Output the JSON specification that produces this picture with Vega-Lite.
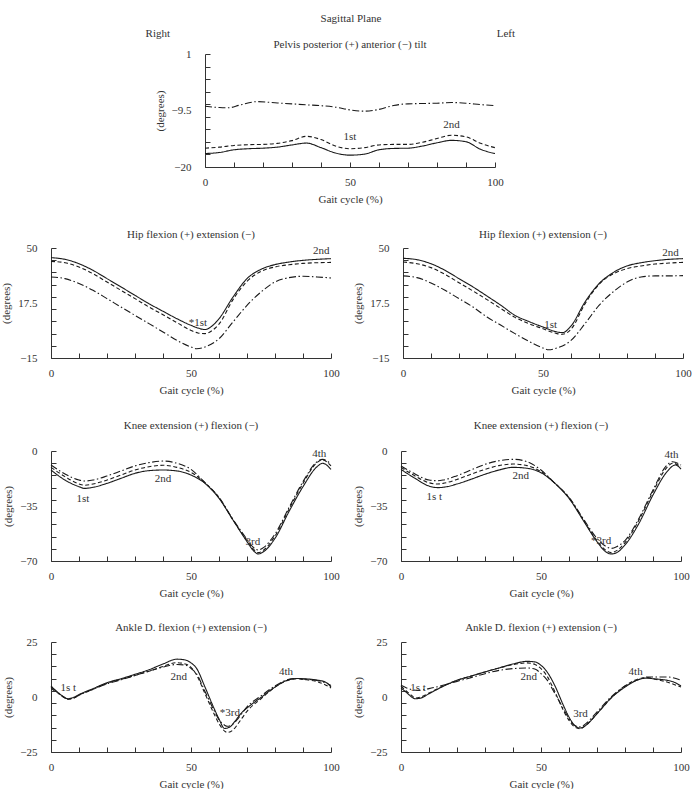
{
"$schema": "https://vega.github.io/schema/vega-lite/v6.json",
"padding": {"left": 0, "top": 13, "right": 0, "bottom": 0},
"title": {"text": "Sagittal Plane", "anchor": "middle", "offset": 4, "dx": 5},
"config": {
 "font": "Liberation Serif",
 "view": {"stroke": null},
 "axis": {"grid": false, "ticks": true, "domainColor": "#333", "tickColor": "#333", "labelColor": "#333", "titleColor": "#333", "labelFont": "Liberation Serif", "titleFont": "Liberation Serif", "labelFontSize": 11, "titleFontSize": 11, "titleFontWeight": "normal", "tickSize": -5, "domainWidth": 1, "tickWidth": 1, "labelFlush": false, "labelOverlap": false},
 "axisX": {"labelPadding": 14, "titlePadding": 6},
 "axisY": {"labelPadding": 19, "titlePadding": 6},
 "title": {"font": "Liberation Serif", "fontSize": 11, "fontWeight": "normal", "color": "#333"},
 "text": {"font": "Liberation Serif"}
},
"datasets": {
 "pelvis": [
  {"x":0,"v":-17.5,"s":"A"},{"x":5,"v":-17.3,"s":"A"},{"x":10,"v":-16.8,"s":"A"},{"x":15,"v":-16.6,"s":"A"},{"x":20,"v":-16.5,"s":"A"},{"x":25,"v":-16.3,"s":"A"},{"x":30,"v":-15.9,"s":"A"},{"x":35,"v":-15.55,"s":"A"},{"x":40,"v":-16.4,"s":"A"},{"x":45,"v":-17.4,"s":"A"},{"x":50,"v":-17.8,"s":"A"},{"x":55,"v":-17.6,"s":"A"},{"x":60,"v":-16.8,"s":"A"},{"x":65,"v":-16.55,"s":"A"},{"x":70,"v":-16.5,"s":"A"},{"x":75,"v":-16.1,"s":"A"},{"x":80,"v":-15.5,"s":"A"},{"x":85,"v":-15.05,"s":"A"},{"x":90,"v":-15.3,"s":"A"},{"x":95,"v":-16.7,"s":"A"},{"x":100,"v":-17.5,"s":"A"},
  {"x":0,"v":-16.5,"s":"B"},{"x":5,"v":-16.3,"s":"B"},{"x":10,"v":-16.0,"s":"B"},{"x":15,"v":-15.85,"s":"B"},{"x":20,"v":-15.8,"s":"B"},{"x":25,"v":-15.6,"s":"B"},{"x":30,"v":-15.1,"s":"B"},{"x":35,"v":-14.3,"s":"B"},{"x":40,"v":-14.9,"s":"B"},{"x":45,"v":-16.1,"s":"B"},{"x":50,"v":-16.6,"s":"B"},{"x":55,"v":-16.4,"s":"B"},{"x":60,"v":-15.9,"s":"B"},{"x":65,"v":-15.8,"s":"B"},{"x":70,"v":-15.8,"s":"B"},{"x":75,"v":-15.4,"s":"B"},{"x":80,"v":-14.7,"s":"B"},{"x":85,"v":-14.1,"s":"B"},{"x":90,"v":-14.4,"s":"B"},{"x":95,"v":-15.6,"s":"B"},{"x":100,"v":-16.4,"s":"B"},
  {"x":0,"v":-8.7,"s":"C"},{"x":5,"v":-8.95,"s":"C"},{"x":8,"v":-9.0,"s":"C"},{"x":12,"v":-8.5,"s":"C"},{"x":18,"v":-7.85,"s":"C"},{"x":25,"v":-8.1,"s":"C"},{"x":30,"v":-8.26,"s":"C"},{"x":35,"v":-8.45,"s":"C"},{"x":40,"v":-8.6,"s":"C"},{"x":45,"v":-8.88,"s":"C"},{"x":50,"v":-9.38,"s":"C"},{"x":55,"v":-9.62,"s":"C"},{"x":60,"v":-9.3,"s":"C"},{"x":65,"v":-8.57,"s":"C"},{"x":70,"v":-8.26,"s":"C"},{"x":75,"v":-8.2,"s":"C"},{"x":80,"v":-8.14,"s":"C"},{"x":85,"v":-8.02,"s":"C"},{"x":90,"v":-8.14,"s":"C"},{"x":95,"v":-8.4,"s":"C"},{"x":100,"v":-8.6,"s":"C"}
 ],
 "pelvisLab": [{"x":50,"v":-14.4,"t":"1st"},{"x":85,"v":-12.1,"t":"2nd"}],
 "hipR": [
  {"x":0,"v":44.3,"s":"A"},{"x":5,"v":43.3,"s":"A"},{"x":10,"v":40.7,"s":"A"},{"x":15,"v":36.8,"s":"A"},{"x":20,"v":31.9,"s":"A"},{"x":25,"v":27.0,"s":"A"},{"x":30,"v":22.0,"s":"A"},{"x":35,"v":17.1,"s":"A"},{"x":40,"v":12.6,"s":"A"},{"x":45,"v":8.2,"s":"A"},{"x":50,"v":4.3,"s":"A"},{"x":52.5,"v":2.7,"s":"A"},{"x":55,"v":1.8,"s":"A"},{"x":57.5,"v":3.9,"s":"A"},{"x":60,"v":8.2,"s":"A"},{"x":65,"v":21.0,"s":"A"},{"x":70,"v":31.9,"s":"A"},{"x":75,"v":37.4,"s":"A"},{"x":80,"v":40.2,"s":"A"},{"x":85,"v":41.7,"s":"A"},{"x":90,"v":42.7,"s":"A"},{"x":95,"v":43.3,"s":"A"},{"x":100,"v":43.7,"s":"A"},
  {"x":0,"v":42.1,"s":"B"},{"x":5,"v":41.3,"s":"B"},{"x":10,"v":38.8,"s":"B"},{"x":15,"v":34.8,"s":"B"},{"x":20,"v":29.9,"s":"B"},{"x":25,"v":25.0,"s":"B"},{"x":30,"v":20.1,"s":"B"},{"x":35,"v":15.1,"s":"B"},{"x":40,"v":10.6,"s":"B"},{"x":45,"v":5.9,"s":"B"},{"x":50,"v":1.3,"s":"B"},{"x":52.5,"v":-0.2,"s":"B"},{"x":55,"v":-0.6,"s":"B"},{"x":57.5,"v":1.2,"s":"B"},{"x":60,"v":5.0,"s":"B"},{"x":65,"v":19.5,"s":"B"},{"x":70,"v":30.3,"s":"B"},{"x":75,"v":36.2,"s":"B"},{"x":80,"v":38.8,"s":"B"},{"x":85,"v":40.1,"s":"B"},{"x":90,"v":40.9,"s":"B"},{"x":95,"v":41.3,"s":"B"},{"x":100,"v":41.5,"s":"B"},
  {"x":0,"v":32.9,"s":"C"},{"x":5,"v":31.9,"s":"C"},{"x":10,"v":29.0,"s":"C"},{"x":15,"v":25.0,"s":"C"},{"x":20,"v":20.1,"s":"C"},{"x":25,"v":15.1,"s":"C"},{"x":30,"v":10.2,"s":"C"},{"x":35,"v":5.3,"s":"C"},{"x":40,"v":0.4,"s":"C"},{"x":45,"v":-4.6,"s":"C"},{"x":50,"v":-8.5,"s":"C"},{"x":52,"v":-9.5,"s":"C"},{"x":55,"v":-8.5,"s":"C"},{"x":60,"v":-3.6,"s":"C"},{"x":65,"v":6.3,"s":"C"},{"x":70,"v":16.1,"s":"C"},{"x":75,"v":24.0,"s":"C"},{"x":80,"v":29.9,"s":"C"},{"x":85,"v":32.5,"s":"C"},{"x":90,"v":33.3,"s":"C"},{"x":95,"v":32.9,"s":"C"},{"x":100,"v":32.3,"s":"C"}
 ],
 "hipRLab": [{"x":52.5,"v":5.8,"t":"*1st"},{"x":96.5,"v":48.5,"t":"2nd"}],
 "hipL": [
  {"x":0,"v":43.9,"s":"A"},{"x":5,"v":43.1,"s":"A"},{"x":10,"v":40.7,"s":"A"},{"x":15,"v":36.8,"s":"A"},{"x":20,"v":31.9,"s":"A"},{"x":25,"v":27.0,"s":"A"},{"x":30,"v":21.6,"s":"A"},{"x":35,"v":16.1,"s":"A"},{"x":40,"v":10.2,"s":"A"},{"x":45,"v":6.5,"s":"A"},{"x":50,"v":3.3,"s":"A"},{"x":55,"v":0.4,"s":"A"},{"x":57,"v":0.0,"s":"A"},{"x":60,"v":3.9,"s":"A"},{"x":65,"v":18.1,"s":"A"},{"x":70,"v":28.9,"s":"A"},{"x":75,"v":35.4,"s":"A"},{"x":80,"v":39.4,"s":"A"},{"x":85,"v":41.3,"s":"A"},{"x":90,"v":42.5,"s":"A"},{"x":95,"v":43.3,"s":"A"},{"x":100,"v":43.7,"s":"A"},
  {"x":0,"v":41.7,"s":"B"},{"x":5,"v":40.7,"s":"B"},{"x":10,"v":38.4,"s":"B"},{"x":15,"v":34.4,"s":"B"},{"x":20,"v":29.5,"s":"B"},{"x":25,"v":24.6,"s":"B"},{"x":30,"v":19.5,"s":"B"},{"x":35,"v":14.2,"s":"B"},{"x":40,"v":9.0,"s":"B"},{"x":45,"v":5.3,"s":"B"},{"x":50,"v":2.3,"s":"B"},{"x":55,"v":-0.6,"s":"B"},{"x":57,"v":-1.0,"s":"B"},{"x":60,"v":2.0,"s":"B"},{"x":65,"v":17.0,"s":"B"},{"x":70,"v":28.5,"s":"B"},{"x":75,"v":34.6,"s":"B"},{"x":80,"v":37.8,"s":"B"},{"x":85,"v":39.4,"s":"B"},{"x":90,"v":40.5,"s":"B"},{"x":95,"v":41.1,"s":"B"},{"x":100,"v":41.5,"s":"B"},
  {"x":0,"v":33.5,"s":"C"},{"x":5,"v":32.5,"s":"C"},{"x":10,"v":29.3,"s":"C"},{"x":15,"v":25.0,"s":"C"},{"x":20,"v":20.1,"s":"C"},{"x":25,"v":15.1,"s":"C"},{"x":30,"v":9.2,"s":"C"},{"x":35,"v":4.3,"s":"C"},{"x":40,"v":-0.6,"s":"C"},{"x":45,"v":-5.2,"s":"C"},{"x":50,"v":-9.1,"s":"C"},{"x":52,"v":-10.1,"s":"C"},{"x":55,"v":-9.1,"s":"C"},{"x":60,"v":-4.6,"s":"C"},{"x":65,"v":5.3,"s":"C"},{"x":70,"v":16.1,"s":"C"},{"x":75,"v":24.0,"s":"C"},{"x":80,"v":29.9,"s":"C"},{"x":85,"v":32.9,"s":"C"},{"x":90,"v":33.5,"s":"C"},{"x":95,"v":33.5,"s":"C"},{"x":100,"v":33.7,"s":"C"}
 ],
 "hipLLab": [{"x":52.7,"v":4.7,"t":"1st"},{"x":95.5,"v":47.2,"t":"2nd"}],
 "kneeR": [
  {"x":0,"v":-12.1,"s":"A"},{"x":5,"v":-18.5,"s":"A"},{"x":10,"v":-22.7,"s":"A"},{"x":12,"v":-23.8,"s":"A"},{"x":15,"v":-23.1,"s":"A"},{"x":20,"v":-20.6,"s":"A"},{"x":25,"v":-17.4,"s":"A"},{"x":30,"v":-14.2,"s":"A"},{"x":35,"v":-12.5,"s":"A"},{"x":40,"v":-12.1,"s":"A"},{"x":45,"v":-12.7,"s":"A"},{"x":50,"v":-15.3,"s":"A"},{"x":55,"v":-20.6,"s":"A"},{"x":60,"v":-30.1,"s":"A"},{"x":65,"v":-43.9,"s":"A"},{"x":70,"v":-57.7,"s":"A"},{"x":72,"v":-62.8,"s":"A"},{"x":74,"v":-65.5,"s":"A"},{"x":76,"v":-64.0,"s":"A"},{"x":80,"v":-55.6,"s":"A"},{"x":85,"v":-38.5,"s":"A"},{"x":90,"v":-22.7,"s":"A"},{"x":95,"v":-10.0,"s":"A"},{"x":97,"v":-7.8,"s":"A"},{"x":100,"v":-11.7,"s":"A"},
  {"x":0,"v":-10.4,"s":"B"},{"x":5,"v":-16.3,"s":"B"},{"x":10,"v":-21.0,"s":"B"},{"x":12,"v":-21.8,"s":"B"},{"x":15,"v":-21.0,"s":"B"},{"x":20,"v":-18.5,"s":"B"},{"x":25,"v":-15.3,"s":"B"},{"x":30,"v":-12.1,"s":"B"},{"x":35,"v":-10.0,"s":"B"},{"x":40,"v":-9.1,"s":"B"},{"x":45,"v":-10.4,"s":"B"},{"x":50,"v":-13.6,"s":"B"},{"x":55,"v":-20.2,"s":"B"},{"x":60,"v":-29.7,"s":"B"},{"x":65,"v":-43.9,"s":"B"},{"x":70,"v":-57.1,"s":"B"},{"x":72,"v":-61.9,"s":"B"},{"x":74,"v":-64.7,"s":"B"},{"x":76,"v":-63.0,"s":"B"},{"x":80,"v":-54.1,"s":"B"},{"x":85,"v":-37.0,"s":"B"},{"x":90,"v":-20.6,"s":"B"},{"x":95,"v":-7.4,"s":"B"},{"x":97,"v":-5.7,"s":"B"},{"x":100,"v":-9.5,"s":"B"},
  {"x":0,"v":-8.9,"s":"C"},{"x":5,"v":-14.6,"s":"C"},{"x":10,"v":-18.5,"s":"C"},{"x":12,"v":-19.1,"s":"C"},{"x":15,"v":-18.5,"s":"C"},{"x":20,"v":-15.9,"s":"C"},{"x":25,"v":-12.7,"s":"C"},{"x":30,"v":-9.5,"s":"C"},{"x":35,"v":-7.4,"s":"C"},{"x":40,"v":-6.4,"s":"C"},{"x":45,"v":-7.8,"s":"C"},{"x":50,"v":-11.7,"s":"C"},{"x":55,"v":-20.2,"s":"C"},{"x":60,"v":-29.5,"s":"C"},{"x":65,"v":-43.5,"s":"C"},{"x":70,"v":-56.2,"s":"C"},{"x":72,"v":-60.9,"s":"C"},{"x":74,"v":-63.0,"s":"C"},{"x":76,"v":-61.3,"s":"C"},{"x":80,"v":-52.8,"s":"C"},{"x":85,"v":-36.0,"s":"C"},{"x":90,"v":-19.5,"s":"C"},{"x":95,"v":-6.8,"s":"C"},{"x":97,"v":-5.3,"s":"C"},{"x":100,"v":-8.3,"s":"C"}
 ],
 "kneeRLab": [{"x":11.4,"v":-30.8,"t":"1st"},{"x":40,"v":-17.8,"t":"2nd"},{"x":72.1,"v":-58.1,"t":"3rd"},{"x":95.8,"v":-1.9,"t":"4th"}],
 "kneeL": [
  {"x":0,"v":-11.7,"s":"A"},{"x":5,"v":-17.4,"s":"A"},{"x":10,"v":-22.3,"s":"A"},{"x":13,"v":-23.3,"s":"A"},{"x":15,"v":-23.1,"s":"A"},{"x":20,"v":-21.0,"s":"A"},{"x":25,"v":-18.0,"s":"A"},{"x":30,"v":-14.8,"s":"A"},{"x":35,"v":-12.1,"s":"A"},{"x":40,"v":-10.4,"s":"A"},{"x":45,"v":-11.0,"s":"A"},{"x":50,"v":-13.8,"s":"A"},{"x":55,"v":-20.6,"s":"A"},{"x":60,"v":-30.1,"s":"A"},{"x":65,"v":-43.9,"s":"A"},{"x":70,"v":-57.7,"s":"A"},{"x":73,"v":-64.0,"s":"A"},{"x":75,"v":-65.5,"s":"A"},{"x":77,"v":-64.7,"s":"A"},{"x":80,"v":-59.8,"s":"A"},{"x":85,"v":-46.0,"s":"A"},{"x":90,"v":-28.0,"s":"A"},{"x":95,"v":-13.2,"s":"A"},{"x":98,"v":-8.9,"s":"A"},{"x":100,"v":-11.5,"s":"A"},
  {"x":0,"v":-10.4,"s":"B"},{"x":5,"v":-15.9,"s":"B"},{"x":10,"v":-20.2,"s":"B"},{"x":13,"v":-21.0,"s":"B"},{"x":15,"v":-20.6,"s":"B"},{"x":20,"v":-18.1,"s":"B"},{"x":25,"v":-14.8,"s":"B"},{"x":30,"v":-11.7,"s":"B"},{"x":35,"v":-9.3,"s":"B"},{"x":40,"v":-8.3,"s":"B"},{"x":45,"v":-9.3,"s":"B"},{"x":50,"v":-13.1,"s":"B"},{"x":55,"v":-20.6,"s":"B"},{"x":60,"v":-29.7,"s":"B"},{"x":65,"v":-43.5,"s":"B"},{"x":70,"v":-57.1,"s":"B"},{"x":73,"v":-63.0,"s":"B"},{"x":75,"v":-64.7,"s":"B"},{"x":77,"v":-63.4,"s":"B"},{"x":80,"v":-58.3,"s":"B"},{"x":85,"v":-43.9,"s":"B"},{"x":90,"v":-25.9,"s":"B"},{"x":95,"v":-10.4,"s":"B"},{"x":97,"v":-7.8,"s":"B"},{"x":100,"v":-10.0,"s":"B"},
  {"x":0,"v":-9.5,"s":"C"},{"x":5,"v":-14.6,"s":"C"},{"x":10,"v":-18.5,"s":"C"},{"x":13,"v":-18.9,"s":"C"},{"x":15,"v":-18.5,"s":"C"},{"x":20,"v":-15.7,"s":"C"},{"x":25,"v":-12.1,"s":"C"},{"x":30,"v":-8.5,"s":"C"},{"x":35,"v":-6.2,"s":"C"},{"x":40,"v":-5.3,"s":"C"},{"x":45,"v":-6.8,"s":"C"},{"x":50,"v":-12.1,"s":"C"},{"x":55,"v":-20.6,"s":"C"},{"x":60,"v":-29.5,"s":"C"},{"x":65,"v":-42.8,"s":"C"},{"x":70,"v":-55.6,"s":"C"},{"x":73,"v":-60.5,"s":"C"},{"x":75,"v":-62.0,"s":"C"},{"x":77,"v":-60.9,"s":"C"},{"x":80,"v":-57.0,"s":"C"},{"x":85,"v":-42.8,"s":"C"},{"x":90,"v":-24.8,"s":"C"},{"x":95,"v":-8.9,"s":"C"},{"x":97,"v":-6.8,"s":"C"},{"x":100,"v":-8.9,"s":"C"}
 ],
 "kneeLLab": [{"x":11.9,"v":-29.5,"t":"1s t"},{"x":42.8,"v":-15.7,"t":"2nd"},{"x":71.5,"v":-57.5,"t":"*3rd"},{"x":96.6,"v":-2.5,"t":"4th"}],
 "ankR": [
  {"x":0,"v":5.0,"s":"A"},{"x":2,"v":2.6,"s":"A"},{"x":4,"v":0.5,"s":"A"},{"x":6,"v":-0.8,"s":"A"},{"x":8,"v":-0.2,"s":"A"},{"x":10,"v":1.1,"s":"A"},{"x":15,"v":3.8,"s":"A"},{"x":20,"v":6.5,"s":"A"},{"x":25,"v":8.3,"s":"A"},{"x":30,"v":10.3,"s":"A"},{"x":35,"v":12.4,"s":"A"},{"x":40,"v":15.0,"s":"A"},{"x":45,"v":17.2,"s":"A"},{"x":48,"v":16.8,"s":"A"},{"x":50,"v":15.5,"s":"A"},{"x":52,"v":13.0,"s":"A"},{"x":55,"v":4.5,"s":"A"},{"x":58,"v":-4.5,"s":"A"},{"x":60,"v":-10.0,"s":"A"},{"x":62,"v":-14.3,"s":"A"},{"x":64,"v":-13.5,"s":"A"},{"x":66,"v":-10.5,"s":"A"},{"x":68,"v":-7.3,"s":"A"},{"x":70,"v":-5.0,"s":"A"},{"x":75,"v":-0.2,"s":"A"},{"x":80,"v":4.5,"s":"A"},{"x":85,"v":7.9,"s":"A"},{"x":88,"v":8.4,"s":"A"},{"x":90,"v":8.3,"s":"A"},{"x":95,"v":7.7,"s":"A"},{"x":98,"v":6.8,"s":"A"},{"x":100,"v":4.5,"s":"A"},
  {"x":0,"v":3.8,"s":"B"},{"x":2,"v":2.2,"s":"B"},{"x":4,"v":0.3,"s":"B"},{"x":6,"v":-1.1,"s":"B"},{"x":8,"v":-0.6,"s":"B"},{"x":10,"v":0.8,"s":"B"},{"x":15,"v":3.5,"s":"B"},{"x":20,"v":6.2,"s":"B"},{"x":25,"v":8.0,"s":"B"},{"x":30,"v":9.8,"s":"B"},{"x":35,"v":11.7,"s":"B"},{"x":40,"v":13.9,"s":"B"},{"x":45,"v":15.6,"s":"B"},{"x":48,"v":15.0,"s":"B"},{"x":50,"v":13.5,"s":"B"},{"x":52,"v":10.0,"s":"B"},{"x":55,"v":1.5,"s":"B"},{"x":58,"v":-7.0,"s":"B"},{"x":60,"v":-12.1,"s":"B"},{"x":62,"v":-15.5,"s":"B"},{"x":63,"v":-16.1,"s":"B"},{"x":65,"v":-15.0,"s":"B"},{"x":67,"v":-11.8,"s":"B"},{"x":70,"v":-6.5,"s":"B"},{"x":75,"v":-0.8,"s":"B"},{"x":80,"v":4.5,"s":"B"},{"x":85,"v":7.7,"s":"B"},{"x":88,"v":8.3,"s":"B"},{"x":90,"v":8.0,"s":"B"},{"x":95,"v":7.0,"s":"B"},{"x":98,"v":5.5,"s":"B"},{"x":100,"v":4.1,"s":"B"},
  {"x":0,"v":4.5,"s":"C"},{"x":2,"v":2.5,"s":"C"},{"x":4,"v":0.5,"s":"C"},{"x":6,"v":-0.8,"s":"C"},{"x":8,"v":-0.5,"s":"C"},{"x":10,"v":0.8,"s":"C"},{"x":15,"v":3.5,"s":"C"},{"x":20,"v":6.0,"s":"C"},{"x":25,"v":7.8,"s":"C"},{"x":30,"v":9.8,"s":"C"},{"x":35,"v":11.8,"s":"C"},{"x":40,"v":13.6,"s":"C"},{"x":45,"v":14.8,"s":"C"},{"x":48,"v":14.5,"s":"C"},{"x":50,"v":13.0,"s":"C"},{"x":52,"v":10.5,"s":"C"},{"x":55,"v":2.5,"s":"C"},{"x":58,"v":-5.5,"s":"C"},{"x":60,"v":-10.3,"s":"C"},{"x":62,"v":-12.8,"s":"C"},{"x":63,"v":-13.3,"s":"C"},{"x":65,"v":-12.3,"s":"C"},{"x":67,"v":-9.5,"s":"C"},{"x":70,"v":-4.5,"s":"C"},{"x":75,"v":0.5,"s":"C"},{"x":80,"v":5.0,"s":"C"},{"x":85,"v":8.0,"s":"C"},{"x":88,"v":8.4,"s":"C"},{"x":90,"v":8.2,"s":"C"},{"x":95,"v":7.5,"s":"C"},{"x":98,"v":6.5,"s":"C"},{"x":100,"v":5.2,"s":"C"}
 ],
 "ankRLab": [{"x":6.2,"v":4.2,"t":"1s t"},{"x":45.6,"v":9.1,"t":"2nd"},{"x":63.9,"v":-7.1,"t":"*3rd"},{"x":83.9,"v":11.4,"t":"4th"}],
 "ankL": [
  {"x":0,"v":4.1,"s":"A"},{"x":2,"v":2.0,"s":"A"},{"x":4,"v":-0.2,"s":"A"},{"x":5,"v":-0.8,"s":"A"},{"x":7,"v":-0.5,"s":"A"},{"x":10,"v":1.5,"s":"A"},{"x":15,"v":4.8,"s":"A"},{"x":20,"v":7.6,"s":"A"},{"x":25,"v":9.5,"s":"A"},{"x":30,"v":11.4,"s":"A"},{"x":35,"v":13.2,"s":"A"},{"x":40,"v":15.0,"s":"A"},{"x":45,"v":16.2,"s":"A"},{"x":48,"v":15.9,"s":"A"},{"x":50,"v":14.4,"s":"A"},{"x":52,"v":11.7,"s":"A"},{"x":55,"v":5.0,"s":"A"},{"x":58,"v":-3.8,"s":"A"},{"x":60,"v":-9.1,"s":"A"},{"x":62,"v":-12.9,"s":"A"},{"x":64,"v":-14.1,"s":"A"},{"x":66,"v":-12.9,"s":"A"},{"x":70,"v":-7.6,"s":"A"},{"x":75,"v":-0.5,"s":"A"},{"x":80,"v":4.5,"s":"A"},{"x":85,"v":8.0,"s":"A"},{"x":88,"v":8.6,"s":"A"},{"x":90,"v":8.3,"s":"A"},{"x":95,"v":7.6,"s":"A"},{"x":98,"v":6.5,"s":"A"},{"x":100,"v":5.0,"s":"A"},
  {"x":0,"v":5.0,"s":"B"},{"x":2,"v":2.6,"s":"B"},{"x":4,"v":0.5,"s":"B"},{"x":5,"v":-0.5,"s":"B"},{"x":7,"v":0.0,"s":"B"},{"x":10,"v":1.8,"s":"B"},{"x":15,"v":5.0,"s":"B"},{"x":20,"v":7.6,"s":"B"},{"x":25,"v":9.5,"s":"B"},{"x":30,"v":11.4,"s":"B"},{"x":35,"v":13.2,"s":"B"},{"x":40,"v":14.7,"s":"B"},{"x":45,"v":15.5,"s":"B"},{"x":48,"v":14.7,"s":"B"},{"x":50,"v":12.9,"s":"B"},{"x":52,"v":9.8,"s":"B"},{"x":55,"v":2.3,"s":"B"},{"x":58,"v":-6.1,"s":"B"},{"x":60,"v":-10.6,"s":"B"},{"x":62,"v":-13.6,"s":"B"},{"x":64,"v":-14.4,"s":"B"},{"x":66,"v":-12.9,"s":"B"},{"x":70,"v":-7.6,"s":"B"},{"x":75,"v":-0.5,"s":"B"},{"x":80,"v":5.0,"s":"B"},{"x":85,"v":8.3,"s":"B"},{"x":88,"v":8.8,"s":"B"},{"x":90,"v":8.3,"s":"B"},{"x":95,"v":6.8,"s":"B"},{"x":100,"v":4.5,"s":"B"},
  {"x":0,"v":5.3,"s":"C"},{"x":2,"v":4.1,"s":"C"},{"x":4,"v":3.3,"s":"C"},{"x":6,"v":3.0,"s":"C"},{"x":8,"v":3.3,"s":"C"},{"x":10,"v":3.8,"s":"C"},{"x":15,"v":5.3,"s":"C"},{"x":20,"v":7.1,"s":"C"},{"x":25,"v":8.8,"s":"C"},{"x":30,"v":10.6,"s":"C"},{"x":35,"v":12.1,"s":"C"},{"x":40,"v":12.9,"s":"C"},{"x":45,"v":13.2,"s":"C"},{"x":48,"v":12.6,"s":"C"},{"x":50,"v":10.6,"s":"C"},{"x":52,"v":8.0,"s":"C"},{"x":55,"v":1.5,"s":"C"},{"x":58,"v":-5.3,"s":"C"},{"x":60,"v":-9.8,"s":"C"},{"x":62,"v":-12.9,"s":"C"},{"x":64,"v":-13.6,"s":"C"},{"x":66,"v":-12.1,"s":"C"},{"x":70,"v":-6.8,"s":"C"},{"x":75,"v":0.0,"s":"C"},{"x":80,"v":5.0,"s":"C"},{"x":85,"v":8.0,"s":"C"},{"x":88,"v":9.1,"s":"C"},{"x":90,"v":9.1,"s":"C"},{"x":95,"v":9.1,"s":"C"},{"x":100,"v":7.6,"s":"C"}
 ],
 "ankLLab": [{"x":6.1,"v":4.2,"t":"1s t"},{"x":45.6,"v":9.1,"t":"2nd"},{"x":64.1,"v":-7.6,"t":"3rd"},{"x":83.8,"v":11.4,"t":"4th"}]
},
"spacing": 24,
"vconcat": [
 {"spacing": 0.01, "vconcat": [
  {"spacing": 0, "hconcat": [
   {"width": 119, "height": 0.01, "title": {"text": "Right", "anchor": "end", "offset": -1}, "data": {"values": []}, "mark": "point"},
   {"width": 345, "height": 0.01, "title": {"text": "Left", "anchor": "end", "offset": -1}, "data": {"values": []}, "mark": "point"}
  ]},
  {"spacing": 0, "hconcat": [
   {"width": 103, "height": 0.01, "data": {"values": []}, "mark": "point"},
   {"width": 290, "height": 113,
    "title": {"text": "Pelvis posterior (+) anterior (−) tilt", "frame": "group", "offset": -2},
    "encoding": {
     "x": {"field": "x", "type": "quantitative", "scale": {"domain": [0, 100], "nice": false}, "axis": {"values": [0,10,20,30,40,50,60,70,80,90,100], "labelExpr": "datum.value % 50 == 0 ? datum.label : ''", "title": "Gait cycle (%)", "ticks": true, "tickSize": -5}},
     "y": {"field": "v", "type": "quantitative", "scale": {"domain": [-20, 1], "nice": false, "zero": false}, "axis": {"values": [1,-1.3333,-3.6667,-6,-8.3333,-9.5,-10.6667,-13,-15.3333,-17.6667,-20], "labelExpr": "datum.value == 1 ? '1' : datum.value == -9.5 ? '−9.5' : datum.value == -20 ? '−20' : ''", "tickOpacity": {"condition": {"test": "datum.value == -9.5", "value": 0}, "value": 1}, "title": "(degrees)", "ticks": true, "tickSize": -5}}
    },
    "layer": [
     {"data": {"name": "pelvis"}, "mark": {"type": "line", "interpolate": "monotone", "strokeWidth": 1.1, "color": "#1a1a1a"},
      "encoding": {"strokeDash": {"field": "s", "type": "nominal", "scale": {"domain": ["A","B","C"], "range": [[1,0],[4,2.5],[7,2.5,1.5,2.5]]}, "legend": null}}},
     {"data": {"name": "pelvisLab"}, "mark": {"type": "text", "fontSize": 11, "color": "#333"}, "encoding": {"text": {"field": "t"}}}
    ]}
  ]}
 ]},
 {"spacing": 12, "hconcat": [
  {"width": 280, "height": 110, "title": {"text": "Hip flexion (+) extension (−)", "frame": "group", "offset": 2},
   "encoding": {
    "x": {"field": "x", "type": "quantitative", "scale": {"domain": [0, 100], "nice": false}, "axis": {"values": [0,10,20,30,40,50,60,70,80,90,100], "labelExpr": "datum.value % 50 == 0 ? datum.label : ''", "title": "Gait cycle (%)", "ticks": true, "tickSize": -5}},
    "y": {"field": "v", "type": "quantitative", "scale": {"domain": [-15, 50], "nice": false, "zero": false}, "axis": {"values": [50,42.7778,35.5556,28.3333,21.1111,17.5,13.8889,6.6667,-0.5556,-7.7778,-15], "labelExpr": "datum.value == 50 ? '50' : datum.value == 17.5 ? '17.5' : datum.value == -15 ? '−15' : ''", "tickOpacity": {"condition": {"test": "datum.value == 17.5", "value": 0}, "value": 1}, "title": "(degrees)", "ticks": true, "tickSize": -5}}
   },
   "layer": [
    {"data": {"name": "hipR"}, "mark": {"type": "line", "interpolate": "monotone", "strokeWidth": 1.1, "color": "#1a1a1a"},
     "encoding": {"strokeDash": {"field": "s", "type": "nominal", "scale": {"domain": ["A","B","C"], "range": [[1,0],[4,2.5],[7,2.5,1.5,2.5]]}, "legend": null}}},
    {"data": {"name": "hipRLab"}, "mark": {"type": "text", "fontSize": 11, "color": "#333"}, "encoding": {"text": {"field": "t"}}}
   ]},
  {"width": 280, "height": 110, "title": {"text": "Hip flexion (+) extension (−)", "frame": "group", "offset": 2},
   "encoding": {
    "x": {"field": "x", "type": "quantitative", "scale": {"domain": [0, 100], "nice": false}, "axis": {"values": [0,10,20,30,40,50,60,70,80,90,100], "labelExpr": "datum.value % 50 == 0 ? datum.label : ''", "title": "Gait cycle (%)", "ticks": true, "tickSize": -5}},
    "y": {"field": "v", "type": "quantitative", "scale": {"domain": [-15, 50], "nice": false, "zero": false}, "axis": {"values": [50,42.7778,35.5556,28.3333,21.1111,17.5,13.8889,6.6667,-0.5556,-7.7778,-15], "labelExpr": "datum.value == 50 ? '50' : datum.value == 17.5 ? '17.5' : datum.value == -15 ? '−15' : ''", "tickOpacity": {"condition": {"test": "datum.value == 17.5", "value": 0}, "value": 1}, "title": "(degrees)", "ticks": true, "tickSize": -5}}
   },
   "layer": [
    {"data": {"name": "hipL"}, "mark": {"type": "line", "interpolate": "monotone", "strokeWidth": 1.1, "color": "#1a1a1a"},
     "encoding": {"strokeDash": {"field": "s", "type": "nominal", "scale": {"domain": ["A","B","C"], "range": [[1,0],[4,2.5],[7,2.5,1.5,2.5]]}, "legend": null}}},
    {"data": {"name": "hipLLab"}, "mark": {"type": "text", "fontSize": 11, "color": "#333"}, "encoding": {"text": {"field": "t"}}}
   ]}
 ]},
 {"spacing": 12, "hconcat": [
  {"width": 280, "height": 110, "title": {"text": "Knee extension (+) flexion (−)", "frame": "group", "offset": 14.5},
   "encoding": {
    "x": {"field": "x", "type": "quantitative", "scale": {"domain": [0, 100], "nice": false}, "axis": {"values": [0,10,20,30,40,50,60,70,80,90,100], "labelExpr": "datum.value % 50 == 0 ? datum.label : ''", "title": "Gait cycle (%)", "ticks": true, "tickSize": -5}},
    "y": {"field": "v", "type": "quantitative", "scale": {"domain": [-70, 0], "nice": false, "zero": false}, "axis": {"values": [0,-7.7778,-15.5556,-23.3333,-31.1111,-35,-38.8889,-46.6667,-54.4444,-62.2222,-70], "labelExpr": "datum.value == 0 ? '0' : datum.value == -35 ? '−35' : datum.value == -70 ? '−70' : ''", "tickOpacity": {"condition": {"test": "datum.value == -35", "value": 0}, "value": 1}, "title": "(degrees)", "ticks": true, "tickSize": -5}}
   },
   "layer": [
    {"data": {"name": "kneeR"}, "mark": {"type": "line", "interpolate": "monotone", "strokeWidth": 1.1, "color": "#1a1a1a"},
     "encoding": {"strokeDash": {"field": "s", "type": "nominal", "scale": {"domain": ["A","B","C"], "range": [[1,0],[4,2.5],[7,2.5,1.5,2.5]]}, "legend": null}}},
    {"data": {"name": "kneeRLab"}, "mark": {"type": "text", "fontSize": 11, "color": "#333"}, "encoding": {"text": {"field": "t"}}}
   ]},
  {"width": 280, "height": 110, "title": {"text": "Knee extension (+) flexion (−)", "frame": "group", "offset": 14.5},
   "encoding": {
    "x": {"field": "x", "type": "quantitative", "scale": {"domain": [0, 100], "nice": false}, "axis": {"values": [0,10,20,30,40,50,60,70,80,90,100], "labelExpr": "datum.value % 50 == 0 ? datum.label : ''", "title": "Gait cycle (%)", "ticks": true, "tickSize": -5}},
    "y": {"field": "v", "type": "quantitative", "scale": {"domain": [-70, 0], "nice": false, "zero": false}, "axis": {"values": [0,-7.7778,-15.5556,-23.3333,-31.1111,-35,-38.8889,-46.6667,-54.4444,-62.2222,-70], "labelExpr": "datum.value == 0 ? '0' : datum.value == -35 ? '−35' : datum.value == -70 ? '−70' : ''", "tickOpacity": {"condition": {"test": "datum.value == -35", "value": 0}, "value": 1}, "title": "(degrees)", "ticks": true, "tickSize": -5}}
   },
   "layer": [
    {"data": {"name": "kneeL"}, "mark": {"type": "line", "interpolate": "monotone", "strokeWidth": 1.1, "color": "#1a1a1a"},
     "encoding": {"strokeDash": {"field": "s", "type": "nominal", "scale": {"domain": ["A","B","C"], "range": [[1,0],[4,2.5],[7,2.5,1.5,2.5]]}, "legend": null}}},
    {"data": {"name": "kneeLLab"}, "mark": {"type": "text", "fontSize": 11, "color": "#333"}, "encoding": {"text": {"field": "t"}}}
   ]}
 ]},
 {"spacing": 12, "hconcat": [
  {"width": 280, "height": 110, "title": {"text": "Ankle D. flexion (+) extension (−)", "frame": "group", "offset": 3},
   "encoding": {
    "x": {"field": "x", "type": "quantitative", "scale": {"domain": [0, 100], "nice": false}, "axis": {"values": [0,10,20,30,40,50,60,70,80,90,100], "labelExpr": "datum.value % 50 == 0 ? datum.label : ''", "title": "Gait cycle (%)", "ticks": true, "tickSize": -5}},
    "y": {"field": "v", "type": "quantitative", "scale": {"domain": [-25, 25], "nice": false, "zero": false}, "axis": {"values": [25,19.4444,13.8889,8.3333,2.7778,0,-2.7778,-8.3333,-13.8889,-19.4444,-25], "labelExpr": "datum.value == 25 ? '25' : datum.value == 0 ? '0' : datum.value == -25 ? '−25' : ''", "tickOpacity": {"condition": {"test": "datum.value == 0", "value": 0}, "value": 1}, "title": "(degrees)", "ticks": true, "tickSize": -5}}
   },
   "layer": [
    {"data": {"name": "ankR"}, "mark": {"type": "line", "interpolate": "monotone", "strokeWidth": 1.1, "color": "#1a1a1a"},
     "encoding": {"strokeDash": {"field": "s", "type": "nominal", "scale": {"domain": ["A","B","C"], "range": [[1,0],[4,2.5],[7,2.5,1.5,2.5]]}, "legend": null}}},
    {"data": {"name": "ankRLab"}, "mark": {"type": "text", "fontSize": 11, "color": "#333"}, "encoding": {"text": {"field": "t"}}}
   ]},
  {"width": 280, "height": 110, "title": {"text": "Ankle D. flexion (+) extension (−)", "frame": "group", "offset": 3},
   "encoding": {
    "x": {"field": "x", "type": "quantitative", "scale": {"domain": [0, 100], "nice": false}, "axis": {"values": [0,10,20,30,40,50,60,70,80,90,100], "labelExpr": "datum.value % 50 == 0 ? datum.label : ''", "title": "Gait cycle (%)", "ticks": true, "tickSize": -5}},
    "y": {"field": "v", "type": "quantitative", "scale": {"domain": [-25, 25], "nice": false, "zero": false}, "axis": {"values": [25,19.4444,13.8889,8.3333,2.7778,0,-2.7778,-8.3333,-13.8889,-19.4444,-25], "labelExpr": "datum.value == 25 ? '25' : datum.value == 0 ? '0' : datum.value == -25 ? '−25' : ''", "tickOpacity": {"condition": {"test": "datum.value == 0", "value": 0}, "value": 1}, "title": "(degrees)", "ticks": true, "tickSize": -5}}
   },
   "layer": [
    {"data": {"name": "ankL"}, "mark": {"type": "line", "interpolate": "monotone", "strokeWidth": 1.1, "color": "#1a1a1a"},
     "encoding": {"strokeDash": {"field": "s", "type": "nominal", "scale": {"domain": ["A","B","C"], "range": [[1,0],[4,2.5],[7,2.5,1.5,2.5]]}, "legend": null}}},
    {"data": {"name": "ankLLab"}, "mark": {"type": "text", "fontSize": 11, "color": "#333"}, "encoding": {"text": {"field": "t"}}}
   ]}
 ]}
]
}
